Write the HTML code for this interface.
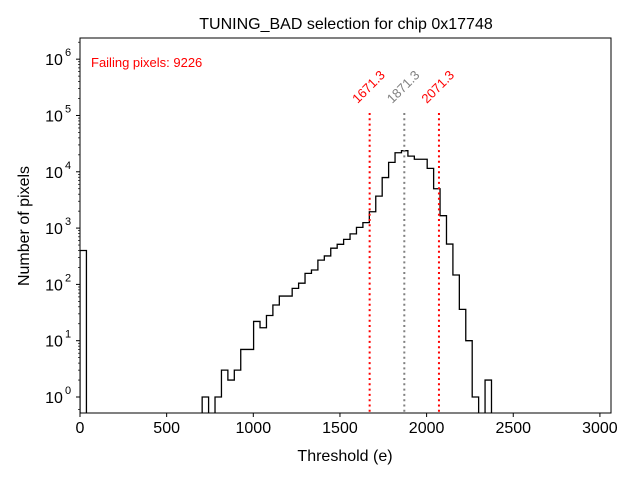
<!DOCTYPE html>
<html><head><meta charset="utf-8"><style>body{margin:0;background:#fff}svg{display:block;font-family:"Liberation Sans","DejaVu Sans",sans-serif}</style></head>
<body>
<svg id="chart" width="640" height="480">
<rect x="0" y="0" width="640" height="480" fill="#fff"/>
<text x="346" y="29" font-size="16" text-anchor="middle">TUNING_BAD selection for chip 0x17748</text>
<text x="91" y="67" font-size="13" fill="red">Failing pixels: 9226</text>
<g id="marks"></g>
<g id="axes"></g>
<rect x="80" y="38" width="531" height="375" fill="none" stroke="#000" stroke-width="1"/>
<text x="345" y="461" font-size="16" text-anchor="middle">Threshold (e)</text>
<text transform="translate(29,226) rotate(-90)" font-size="16" text-anchor="middle">Number of pixels</text>
</svg>
<script>
const binWidth = 37.1;
const counts = [400,0,0,0,0,0,0,0,0,0,0,0,0,0,0,0,0,0,0,1,0,1,3,2,3,7,7,22,17,28,43,62,62,85,105,157,180,270,320,440,515,630,790,1030,1250,1950,3700,7900,14700,21800,23700,19000,16700,16700,11500,5000,1660,520,147,36,10,1,0,2];
const vlineValues = [1671.3, 1871.3, 2071.3];
const vlineColors = ['red', 'gray', 'red'];
const xTicks = [0,500,1000,1500,2000,2500,3000];
const yTicks = [0,1,2,3,4,5,6];

const NS = 'http://www.w3.org/2000/svg';
const X0 = 80, X1 = 611, Y0 = 413, Y1 = 38;
const xMin = 0, xMax = 3064;
const yMinLog = -0.284, yMaxLog = 6.376;
function xs(v){ return X0 + (v - xMin) / (xMax - xMin) * (X1 - X0); }
function ys(v){ const l = v > 0 ? Math.log10(v) : yMinLog - 1; return Y0 - (l - yMinLog) / (yMaxLog - yMinLog) * (Y0 - Y1); }
function mk(tag, attrs, parent){ const e = document.createElementNS(NS, tag); for (const k in attrs) e.setAttribute(k, attrs[k]); parent.appendChild(e); return e; }

const marks = document.getElementById('marks');
const clip = mk('clipPath', {id:'pc'}, marks);
mk('rect', {x:X0, y:Y1, width:X1-X0, height:Y0-Y1}, clip);
const g = mk('g', {'clip-path':'url(#pc)'}, marks);

let d = 'M' + xs(0) + ',' + (Y0 + 5);
for (let i = 0; i < counts.length; i++) {
  const yy = counts[i] > 0 ? ys(counts[i]) : Y0 + 5;
  d += ' L' + xs(i*binWidth) + ',' + yy + ' L' + xs((i+1)*binWidth) + ',' + yy;
}
d += ' L' + xs(counts.length*binWidth) + ',' + (Y0 + 5);
const path = mk('path', {d:d, fill:'none', stroke:'#000', 'stroke-width':1.3}, g);



for (let i = 0; i < vlineValues.length; i++) {
  const x = xs(vlineValues[i]);
  const ln = mk('line', {x1:x, x2:x, y1:113, y2:Y0, stroke:vlineColors[i], 'stroke-width':2, 'stroke-dasharray':'2,3.3'}, marks);
  
  
  const t = mk('text', {x:0, y:0, 'font-size':13, fill:vlineColors[i], 'text-anchor':'middle', transform:'translate(' + (x+2) + ',90) rotate(-45)'}, marks);
  t.textContent = vlineValues[i].toFixed(1);
  
  
}

const axes = document.getElementById('axes');
for (const v of xTicks) {
  const x = xs(v);
  mk('line', {x1:x, x2:x, y1:Y0, y2:Y0+4, stroke:'#000'}, axes);
  const t = mk('text', {x:x, y:Y0+20, 'font-size':16, 'text-anchor':'middle'}, axes);
  t.textContent = v;
  
  
}
for (const p of yTicks) {
  const y = ys(Math.pow(10, p));
  mk('line', {x1:X0-4, x2:X0, y1:y, y2:y, stroke:'#000'}, axes);
  for (let m = 2; m < 10; m++) {
    const ym = ys(m * Math.pow(10, p));
    if (ym > Y1) mk('line', {x1:X0-2, x2:X0, y1:ym, y2:ym, stroke:'#000', 'stroke-width':0.7}, axes);
  }
  const t = mk('text', {x:X0-26, y:y+6, 'font-size':16, 'text-anchor':'middle'}, axes);
  t.textContent = '10';
  
  
  const s = mk('text', {x:X0-12, y:y-3, 'font-size':11, 'text-anchor':'middle'}, axes);
  s.textContent = p;
}
const ym = ys(0.6); mk('line', {x1:X0-2, x2:X0, y1:ym, y2:ym, stroke:'#000', 'stroke-width':0.7}, axes);
</script>
</body></html>
